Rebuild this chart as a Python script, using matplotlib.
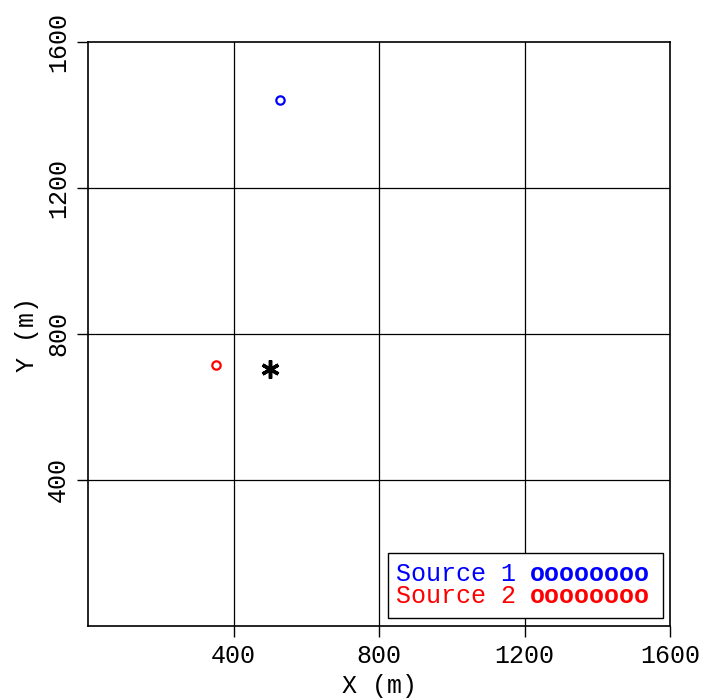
import matplotlib
matplotlib.use("Agg")
import matplotlib.pyplot as plt
from matplotlib.patches import Rectangle

# Data
src1_x = [527]
src1_y = [1441]
src2_x = [352]
src2_y = [715]
rec_x = [500]
rec_y = [705]
ticks = [400, 800, 1200, 1600]
legend_labels = ["Source 1", "Source 2"]
legend_colors = ["blue", "red"]

plt.rcParams['font.family'] = ['Liberation Mono', 'DejaVu Sans']
FS = 18

fig = plt.figure(figsize=(7.12, 7.0), dpi=100)
ax = fig.add_axes([88/712, 1-626/700, 582/712, 584/700])
ax.set_xlim(0, 1600)
ax.set_ylim(0, 1600)
for t in ticks[:-1]:
    ax.axvline(t, color='black', lw=0.9, zorder=1)
    ax.axhline(t, color='black', lw=0.9, zorder=1)

ax.plot(src1_x, src1_y, 'o', mfc='none', mec='blue', ms=6, mew=1.6, zorder=3)
ax.plot(src2_x, src2_y, 'o', mfc='none', mec='red', ms=6, mew=1.6, zorder=3)
ax.plot(rec_x, rec_y, marker=(6, 2, 0), color='black', ms=13, mew=2.5, ls='none', zorder=3)

ax.set_xticks(ticks)
ax.set_yticks(ticks)
ax.set_xticklabels([str(t) for t in ticks], fontsize=FS)
ax.set_yticklabels([str(t) for t in ticks], fontsize=FS, rotation=90, va='center')
ax.tick_params(direction='out', length=8, width=1, pad=5)
for s in ax.spines.values():
    s.set_linewidth(1.2)
ax.set_xlabel("X (m)", fontsize=FS, labelpad=4)
ax.set_ylabel("Y (m)", fontsize=FS, labelpad=5)

def px2x(p):
    return (p - 88) / 582 * 1600

def py2y(p):
    return (626 - p) / 584 * 1600

# legend box
ax.add_patch(Rectangle((px2x(388), py2y(618)), px2x(663) - px2x(388), py2y(553) - py2y(618),
                       facecolor='white', edgecolor='black', lw=1, zorder=4))
for i, (lab, c) in enumerate(zip(legend_labels, legend_colors)):
    yy = py2y(574 + i * 22)
    ax.text(px2x(396), yy, lab, color=c, fontsize=FS, va='center', ha='left', zorder=5)
    ax.text(px2x(530), yy, "oooooooo", color=c, fontsize=FS, va='center', ha='left',
            zorder=5, fontweight='bold')

fig.savefig("out.png", dpi=100)
